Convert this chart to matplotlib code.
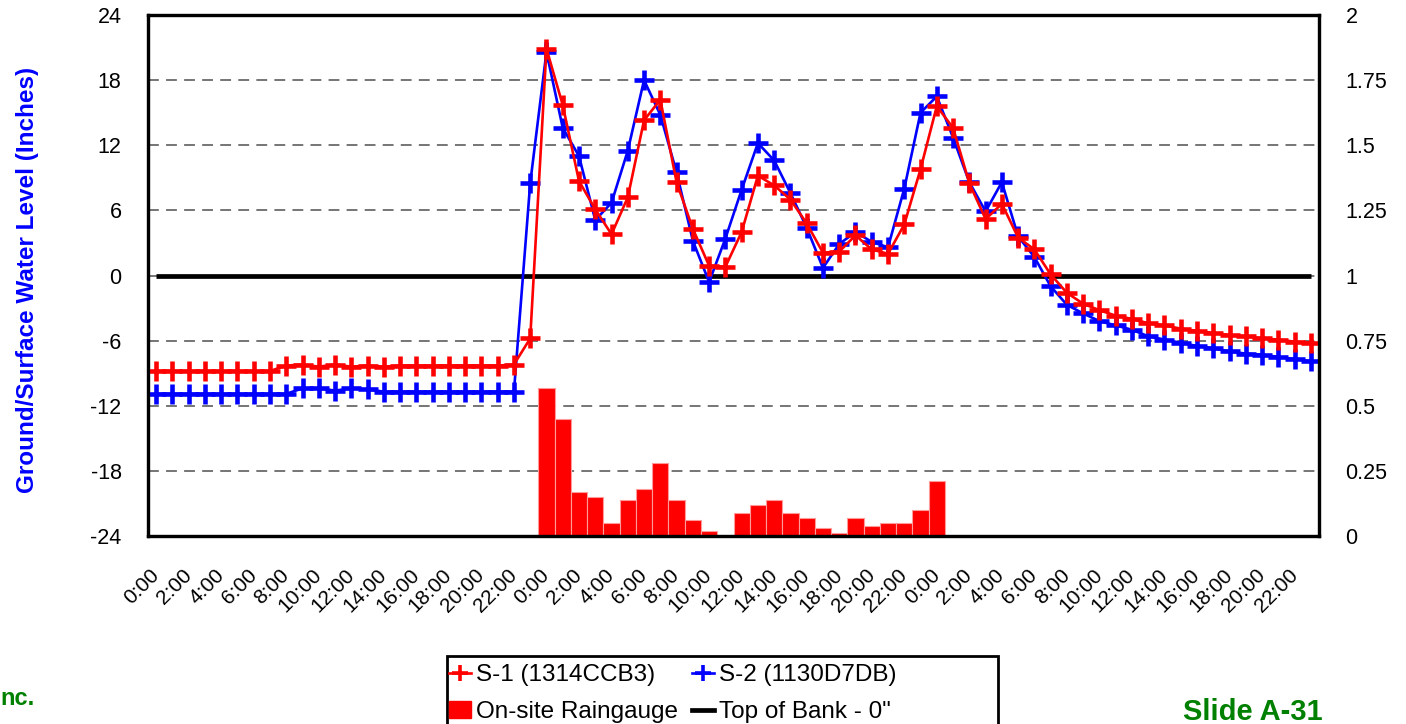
import matplotlib
matplotlib.use("Agg")
import matplotlib.pyplot as plt
from matplotlib.lines import Line2D
from matplotlib.patches import Patch, Rectangle

plt.rcParams['font.family'] = ['Liberation Sans', 'DejaVu Sans']
plt.rcParams['axes.unicode_minus'] = False

# hourly readings over three days (inches, relative to top of bank)
s1_level = [-8.8, -8.8, -8.8, -8.8, -8.8, -8.8, -8.8, -8.8, -8.3, -8.2,
            -8.4, -8.2, -8.4, -8.3, -8.4, -8.3, -8.3, -8.3, -8.3, -8.3,
            -8.3, -8.3, -8.2, -5.8, 20.9, 15.7, 8.7, 6.1, 3.8, 7.2,
            14.3, 16.2, 8.6, 4.3, 0.9, 0.8, 4.0, 9.2, 8.3, 7.0,
            4.8, 2.1, 2.2, 3.7, 2.4, 2.0, 4.7, 9.8, 15.6, 13.6,
            8.5, 5.2, 6.6, 3.5, 2.4, 0.1, -1.6, -2.6, -3.2, -3.7,
            -4.0, -4.4, -4.6, -4.9, -5.1, -5.3, -5.5, -5.6, -5.8, -5.9,
            -6.1, -6.2]
s2_level = [-10.9, -10.9, -10.9, -10.9, -10.9, -10.9, -10.9, -10.9, -10.9, -10.4,
            -10.4, -10.6, -10.4, -10.5, -10.7, -10.7, -10.7, -10.7, -10.7, -10.7,
            -10.7, -10.7, -10.7, 8.5, 20.6, 13.6, 11.0, 5.1, 6.7, 11.5,
            18.0, 14.8, 9.5, 3.2, -0.6, 3.4, 7.9, 12.2, 10.6, 7.6,
            4.4, 0.7, 2.9, 4.0, 3.1, 2.6, 8.0, 15.0, 16.5, 12.7,
            8.6, 5.9, 8.6, 3.6, 1.7, -1.0, -2.7, -3.5, -4.2, -4.6,
            -5.0, -5.6, -5.9, -6.2, -6.5, -6.7, -7.0, -7.2, -7.3, -7.5,
            -7.7, -7.9]
top_of_bank = [0] * 72

# on-site raingauge (inches per hour), hours 24..48
rain_hours = list(range(24, 49))
rain = [0.57, 0.45, 0.17, 0.15, 0.05, 0.14, 0.18, 0.28, 0.14, 0.06,
        0.02, 0.0, 0.09, 0.12, 0.14, 0.09, 0.07, 0.03, 0.01, 0.07,
        0.04, 0.05, 0.05, 0.10, 0.21]

hours = list(range(72))
tick_hours = list(range(0, 72, 2))
tick_labels = ['%d:00' % (h % 24) for h in tick_hours]

left_ticks = [-24, -18, -12, -6, 0, 6, 12, 18, 24]
right_ticks = [0, 0.25, 0.5, 0.75, 1, 1.25, 1.5, 1.75, 2]
right_labels = ['0', '0.25', '0.5', '0.75', '1', '1.25', '1.5', '1.75', '2']

W, H = 1406, 724
fig = plt.figure(figsize=(W / 100, H / 100), dpi=100)
ax2 = fig.add_axes([148 / W, 1 - 536 / H, (1319 - 148) / W, (536 - 15) / H])
ax = ax2.twinx()
ax.yaxis.tick_left()
ax2.yaxis.tick_right()
ax.set_zorder(ax2.get_zorder() + 1)
ax.patch.set_visible(False)

# rain bars on the right axis, grid behind them
ax2.set_axisbelow(True)
ax2.yaxis.grid(True, linestyle=(0, (6, 4)), color='#6a6a6a', linewidth=1.3)
ax2.bar(rain_hours, rain, width=1.0, color='#ff0000', edgecolor='#ff9a9a', linewidth=0.8)
ax2.set_ylim(0, 2)
ax2.set_yticks(right_ticks)
ax2.set_yticklabels(right_labels)
ax2.set_xlim(-0.5, 71.5)

# water levels on the left axis
mk = dict(marker='+', markersize=15, markeredgewidth=3.3, linewidth=1.9)
ax.plot(hours, top_of_bank, color='black', linewidth=3.4, solid_capstyle='butt')
ax.plot(hours, s2_level, color='#0000ff', **mk)
ax.plot(hours, s1_level, color='#ff0000', **mk)
ax.set_ylim(-24, 24)
ax.set_yticks(left_ticks)
ax.set_xlim(-0.5, 71.5)

ax2.set_xticks(tick_hours)
ax2.set_xticklabels(tick_labels, rotation=45, ha='right', va='center',
                    rotation_mode='anchor')

for a in (ax, ax2):
    for s in a.spines.values():
        s.set_linewidth(2.3)
        s.set_color('black')
    a.tick_params(axis='both', length=0, labelsize=15.5, pad=19)
ax2.tick_params(axis='x', labelsize=15, pad=26)
ax.tick_params(axis='x', labelbottom=False)

fig.text(28 / W, 1 - 280 / H, 'Ground/Surface Water Level (Inches)', rotation=90,
         ha='center', va='center', color='#0000ff', fontsize=17.5, fontweight='bold')

# legend (filled column by column, so S-1 / S-2 end up on the first row)
handles = [
    Line2D([], [], color='#ff0000', marker='+', markersize=11, markeredgewidth=2.6, linewidth=1.9),
    Patch(facecolor='#ff0000', edgecolor='#ff0000'),
    Line2D([], [], color='#0000ff', marker='+', markersize=11, markeredgewidth=2.6, linewidth=1.9),
    Line2D([], [], color='black', linewidth=3.4),
]
labels = ['S-1 (1314CCB3)', 'On-site Raingauge', 'S-2 (1130D7DB)', 'Top of Bank - 0"']
leg = fig.legend(handles, labels, ncol=2, loc='upper left',
                 bbox_to_anchor=(449 / W, 1 - 664 / H), bbox_transform=fig.transFigure,
                 borderaxespad=0, fontsize=17.5, frameon=False,
                 handlelength=0.9, handletextpad=0.2, columnspacing=0.6,
                 labelspacing=0.62, borderpad=0.0)
fig.patches.append(Rectangle((447 / W, -0.02), (998 - 447) / W, (724 - 656) / H + 0.02,
                             transform=fig.transFigure, fill=False,
                             edgecolor='black', linewidth=2.0))

fig.text(0, 1 - 705 / H, 'nc.', color='#008000', fontsize=17, fontweight='bold',
         ha='left', va='baseline')
fig.text(1183 / W, 1 - 720 / H, 'Slide A-31', color='#008000', fontsize=21,
         fontweight='bold', ha='left', va='baseline')

fig.savefig('out.png', dpi=100)
